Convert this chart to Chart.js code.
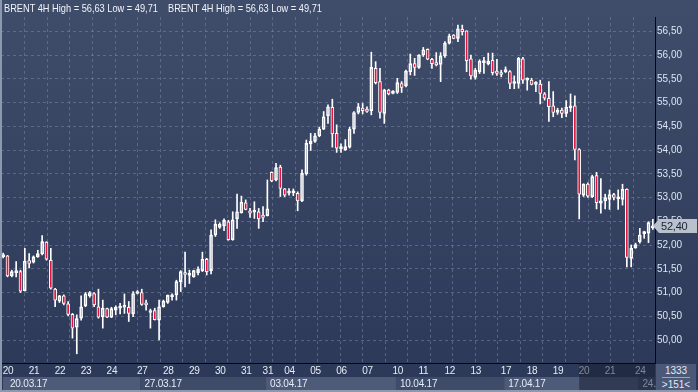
<!DOCTYPE html>
<html>
<head>
<meta charset="utf-8">
<script src="https://cdn.jsdelivr.net/npm/chart.js@4.4.1/dist/chart.umd.min.js"></script>
<style>
  html, body { margin: 0; padding: 0; }
  body { width: 698px; height: 392px; overflow: hidden; background: linear-gradient(#3f4c6a, #2c3857); }
  #wrap { position: relative; width: 698px; height: 392px; }
  #c { position: absolute; left: 0; top: 0; }
  .hdr { position: absolute; top: 2px; font: 11px 'Liberation Sans', Arial, sans-serif; color: #f2f5fa; white-space: nowrap;
         transform: scaleX(0.84); transform-origin: 0 0; }
  .box { position: absolute; left: 656px; top: 364px; width: 40px; height: 26px; background: #4b5878; color: #e2e9f4;
         font: 10px 'Liberation Sans', Arial, sans-serif; text-align: center; line-height: 13px; }
  .box hr { margin: 0 6px; border: 0; border-top: 1px solid #9aa6ba; height: 0; }
  .frame { position: absolute; left: 0; top: 0; width: 696px; height: 390px; border-left: 2px solid #8c98ad; border-bottom: 2px solid #8c98ad; box-sizing: content-box; pointer-events: none; }
</style>
</head>
<body>
<div id="wrap">
  <canvas id="c" width="698" height="392"></canvas>
  <div class="hdr" style="left:4px">BRENT 4H High = 56,63 Low = 49,71</div>
  <div class="hdr" style="left:168px">BRENT 4H High = 56,63 Low = 49,71</div>
  <div class="box">1333<hr>&gt;151&lt;</div>
  <div class="frame"></div>
</div>
<script>
// 4H candles, 20.03.17 - 24.04.17
const openP = [
  51.75, 51.77, 51.35, 51.42, 51.44, 51.04, 51.67, 51.64, 51.75, 51.81,
  52.06, 51.68, 51.07, 50.82, 50.93, 50.76, 50.54, 50.27, 50.46, 50.72,
  50.93, 50.98, 50.70, 50.49, 50.66, 50.48, 50.63, 50.67, 50.69, 50.69,
  50.55, 50.98, 51.00, 50.76, 50.58, 50.62, 50.42, 50.70, 50.79, 50.91,
  50.95, 51.23, 51.42, 51.36, 51.33, 51.42, 51.46, 51.70, 51.46, 52.21,
  52.37, 52.40, 52.49, 52.11, 52.55, 52.68, 52.89, 52.72, 52.69, 52.70,
  52.63, 52.62, 53.53, 53.37, 53.64, 53.18, 53.09, 53.10, 53.09, 52.93,
  53.50, 54.13, 54.18, 54.30, 54.44, 54.72, 54.90, 54.35, 54.03, 54.00,
  54.06, 54.44, 54.79, 54.88, 54.86, 54.83, 55.72, 55.44, 54.77, 55.26,
  55.19, 55.21, 55.40, 55.35, 55.65, 55.82, 55.74, 56.00, 56.12, 55.91,
  55.84, 55.80, 55.98, 56.25, 56.42, 56.35, 56.54, 56.51, 55.92, 55.53,
  55.65, 55.84, 55.81, 55.89, 55.66, 55.63, 55.65, 55.65, 55.40, 55.40,
  55.92, 55.47, 55.47, 55.38, 55.39, 55.18, 55.09, 54.93, 54.79, 54.84,
  54.77, 54.89, 54.93, 54.01, 53.05, 53.28, 53.02, 53.46, 52.88, 52.93,
  52.96, 53.06, 52.97, 52.96, 53.17, 51.72, 51.94, 52.07, 52.24, 52.25,
  52.36
];
const highP = [
  51.83, 51.78, 51.47, 51.65, 51.47, 51.93, 51.82, 51.77, 51.89, 52.20,
  52.07, 51.93, 51.09, 50.94, 50.95, 50.81, 50.56, 50.53, 50.93, 51.00,
  51.02, 51.00, 51.07, 50.84, 50.67, 50.69, 50.72, 50.77, 50.97, 50.81,
  51.02, 51.04, 51.07, 50.84, 50.65, 50.67, 50.84, 50.84, 50.95, 50.97,
  51.26, 51.46, 51.85, 51.47, 51.47, 51.54, 51.85, 51.72, 52.32, 52.53,
  52.47, 52.55, 52.52, 52.70, 53.07, 53.03, 52.95, 52.77, 52.91, 52.77,
  52.81, 53.37, 53.54, 53.72, 53.68, 53.19, 53.19, 53.18, 53.12, 53.58,
  54.21, 54.35, 54.35, 54.48, 54.81, 54.95, 55.07, 54.53, 54.13, 54.22,
  54.48, 54.81, 54.98, 54.98, 54.91, 56.06, 55.86, 55.72, 55.28, 55.28,
  55.25, 55.51, 55.44, 55.68, 56.02, 55.93, 56.01, 56.16, 56.13, 55.93,
  56.05, 56.05, 56.28, 56.44, 56.43, 56.63, 56.63, 56.51, 56.00, 55.72,
  55.90, 55.95, 56.04, 56.04, 55.91, 55.68, 55.75, 55.67, 55.56, 55.95,
  55.95, 55.52, 55.51, 55.44, 55.47, 55.21, 55.44, 55.23, 54.88, 54.88,
  55.04, 55.18, 55.14, 54.03, 53.29, 53.31, 53.47, 53.53, 53.40, 53.07,
  53.16, 53.09, 53.16, 53.28, 53.18, 52.00, 52.04, 52.35, 52.29, 52.49,
  52.54
];
const lowP = [
  51.73, 51.33, 51.33, 51.33, 51.00, 51.03, 51.52, 51.62, 51.74, 51.79,
  51.68, 51.07, 50.70, 50.79, 50.74, 50.51, 50.04, 49.71, 50.42, 50.70,
  50.90, 50.70, 50.46, 50.25, 50.47, 50.47, 50.53, 50.55, 50.56, 50.39,
  50.49, 50.97, 50.73, 50.63, 50.25, 50.42, 50.00, 50.69, 50.77, 50.84,
  50.84, 51.02, 51.12, 51.19, 51.32, 51.37, 51.44, 51.37, 51.39, 52.18,
  52.35, 52.30, 52.10, 52.10, 52.35, 52.67, 52.74, 52.58, 52.56, 52.35,
  52.49, 52.61, 53.33, 53.35, 53.02, 53.02, 53.05, 53.04, 52.72, 52.91,
  53.47, 53.99, 54.16, 54.28, 54.43, 54.56, 54.06, 53.95, 53.95, 53.99,
  54.04, 54.35, 54.76, 54.76, 54.79, 54.74, 55.39, 54.67, 54.56, 55.16,
  55.18, 55.19, 55.21, 55.33, 55.58, 55.57, 55.72, 55.97, 55.90, 55.72,
  55.77, 55.44, 55.95, 56.23, 56.34, 56.28, 56.42, 55.65, 55.49, 55.49,
  55.61, 55.61, 55.79, 55.58, 55.57, 55.54, 55.63, 55.29, 55.29, 55.30,
  55.40, 55.26, 55.37, 55.23, 54.97, 55.05, 54.60, 54.70, 54.75, 54.68,
  54.70, 54.81, 53.79, 52.55, 53.02, 53.00, 53.00, 52.76, 52.67, 52.76,
  52.75, 52.95, 52.75, 52.84, 51.54, 51.54, 51.93, 52.04, 52.14, 52.05,
  52.33
];
const closeP = [
  51.80, 51.35, 51.44, 51.45, 51.03, 51.66, 51.61, 51.75, 51.82, 52.07,
  51.70, 51.09, 50.84, 50.93, 50.77, 50.54, 50.25, 50.45, 50.70, 50.97,
  51.00, 50.74, 50.48, 50.67, 50.48, 50.66, 50.69, 50.69, 50.72, 50.56,
  50.98, 51.02, 50.75, 50.74, 50.62, 50.43, 50.70, 50.82, 50.94, 50.95,
  51.23, 51.44, 51.38, 51.38, 51.46, 51.49, 51.70, 51.44, 52.21, 52.44,
  52.44, 52.52, 52.11, 52.53, 52.70, 52.90, 52.75, 52.67, 52.71, 52.55,
  52.58, 52.76, 53.35, 53.63, 53.19, 53.05, 53.12, 53.11, 52.93, 53.51,
  54.14, 54.19, 54.30, 54.44, 54.70, 54.91, 54.34, 54.04, 54.05, 54.07,
  54.44, 54.79, 54.91, 54.83, 54.81, 55.74, 55.42, 54.79, 55.26, 55.18,
  55.24, 55.42, 55.32, 55.66, 55.82, 55.74, 56.00, 56.11, 55.91, 55.82,
  55.79, 55.98, 56.25, 56.40, 56.35, 56.55, 56.49, 55.88, 55.56, 55.68,
  55.87, 55.86, 55.87, 55.63, 55.61, 55.59, 55.68, 55.40, 55.42, 55.93,
  55.47, 55.49, 55.38, 55.42, 55.19, 55.09, 54.91, 54.79, 54.84, 54.77,
  54.90, 54.93, 54.01, 53.07, 53.28, 53.03, 53.44, 52.89, 52.93, 53.00,
  53.06, 53.00, 52.99, 53.17, 51.74, 51.93, 52.01, 52.21, 52.25, 52.47,
  52.40
];

// axis labels
const dayStarts = [0, 6, 12, 18, 24, 31, 37, 43, 49, 55, 60, 65, 71, 77, 83, 90, 96, 102, 108, 115, 121, 127, 133, 139, 146];
const dayLabels = ['20', '21', '22', '23', '24', '27', '28', '29', '30', '31', '31', '04', '05', '06', '07', '10', '11', '12', '13', '17', '18', '19', '20', '21', '24'];
const weekStarts = [0, 31, 60, 90, 115, 146];
const weekLabels = ['20.03.17', '27.03.17', '03.04.17', '10.04.17', '17.04.17', '24.'];
const priceTicks = [50, 50.5, 51, 51.5, 52, 52.5, 53, 53.5, 54, 54.5, 55, 55.5, 56, 56.5];
const lastPriceLabel = '52,40';

const FONT = "'Liberation Sans', Arial, sans-serif";
const RED = '#e0143c';

const labels = openP.map((v, i) => String(i));
const bodies = openP.map((o, i) => [o, closeP[i]]);
const upperWicks = openP.map((o, i) => [Math.max(o, closeP[i]), highP[i]]);
const lowerWicks = openP.map((o, i) => [lowP[i], Math.min(o, closeP[i])]);
const bodyColors = openP.map((o, i) => closeP[i] < o ? RED : 'rgba(0,0,0,0)');

const fmt = v => v.toFixed(2).replace('.', ',');

// day and week rows under the plot, highlight and last price marker
const extrasPlugin = {
    id: 'extras',
    afterDraw(chart) {
        const ctx = chart.ctx;
        const x = chart.scales.x;
        const y = chart.scales.y;
        const area = chart.chartArea;
        ctx.save();
        ctx.font = '10px ' + FONT;
        ctx.textBaseline = 'middle';
        ctx.textAlign = 'left';
        ctx.letterSpacing = '-0.2px';

        // day labels
        ctx.fillStyle = '#e6ecf5';
        dayStarts.forEach((s, k) => {
            ctx.fillText(dayLabels[k], x.getPixelForValue(s) - 0.5, area.bottom + 8);
        });

        // week bands
        const rowTop = 377, rowH = 13;
        weekStarts.forEach((s, k) => {
            const x0 = k === 0 ? 3 : x.getPixelForValue(s) + 3;
            const x1 = k < weekStarts.length - 1 ? x.getPixelForValue(weekStarts[k + 1]) + 3 : area.right;
            ctx.fillStyle = k % 2 === 0 ? '#4d5a78' : '#3e4b69';
            ctx.fillRect(x0, rowTop, x1 - x0, rowH);
            ctx.fillStyle = '#e6ecf5';
            ctx.fillText(weekLabels[k], x0 + (k === 0 ? 7 : 4), rowTop + rowH / 2 + 1);
        });

        // dark highlight over last days
        const hx = x.getPixelForValue(dayStarts[dayStarts.length - 3]);
        ctx.fillStyle = 'rgba(22, 30, 48, 0.5)';
        ctx.fillRect(hx, area.bottom + 1, area.right - hx, 392 - area.bottom - 3);

        // last price marker
        const py = Math.round(y.getPixelForValue(closeP[closeP.length - 1]));
        ctx.beginPath();
        ctx.moveTo(area.right - 2, py);
        ctx.lineTo(area.right + 4, py - 7);
        ctx.lineTo(697, py - 7);
        ctx.lineTo(697, py + 7);
        ctx.lineTo(area.right + 4, py + 7);
        ctx.closePath();
        ctx.fillStyle = '#b9c1cd';
        ctx.fill();
        ctx.fillStyle = '#1b2233';
        ctx.font = '11px ' + FONT;
        ctx.fillText(lastPriceLabel, area.right + 6, py + 1);
        ctx.restore();
    }
};

new Chart(document.getElementById('c'), {
    type: 'bar',
    data: {
        labels: labels,
        datasets: [
            {
                data: bodies,
                backgroundColor: bodyColors,
                borderColor: '#ffffff',
                borderWidth: 1,
                borderSkipped: false,
                barThickness: 3,
                minBarLength: 2,
                grouped: false
            },
            {
                data: upperWicks,
                backgroundColor: '#ffffff',
                borderWidth: 0,
                barThickness: 1,
                grouped: false
            },
            {
                data: lowerWicks,
                backgroundColor: '#ffffff',
                borderWidth: 0,
                barThickness: 1,
                grouped: false
            }
        ]
    },
    options: {
        responsive: false,
        animation: false,
        devicePixelRatio: 1,
        layout: { padding: { top: 17, left: 1, right: 0, bottom: 0 } },
        plugins: { legend: { display: false }, tooltip: { enabled: false } },
        scales: {
            x: {
                type: 'category',
                offset: true,
                grid: { display: false },
                border: { display: true, color: '#06080d', width: 1 },
                afterFit: axis => { axis.height = 29; },
                ticks: { display: false }
            },
            xg: {
                type: 'linear',
                position: 'top',
                min: -0.5,
                max: 150.5,
                ticks: { display: false, stepSize: 5.4 },
                afterBuildTicks: axis => {
                    const t = [];
                    for (let v = 5.04; v < 150.5; v += 5.4) t.push({ value: v });
                    axis.ticks = t;
                },
                grid: { drawTicks: false, color: 'rgba(125, 140, 170, 0.5)' },
                border: { display: false, dash: [3, 3] }
            },
            y: {
                type: 'linear',
                position: 'right',
                min: 49.516,
                max: 56.80,
                afterBuildTicks: axis => { axis.ticks = priceTicks.map(v => ({ value: v })); },
                afterFit: axis => { axis.width = 43; },
                grid: { drawTicks: false, color: 'rgba(125, 140, 170, 0.5)' },
                border: { display: true, color: '#06080d', width: 1, dash: [3, 3] },
                ticks: {
                    padding: 2,
                    color: '#dbe5f3',
                    font: { family: FONT, size: 10 },
                    callback: v => fmt(v)
                }
            }
        }
    },
    plugins: [extrasPlugin]
});
</script>
</body>
</html>
